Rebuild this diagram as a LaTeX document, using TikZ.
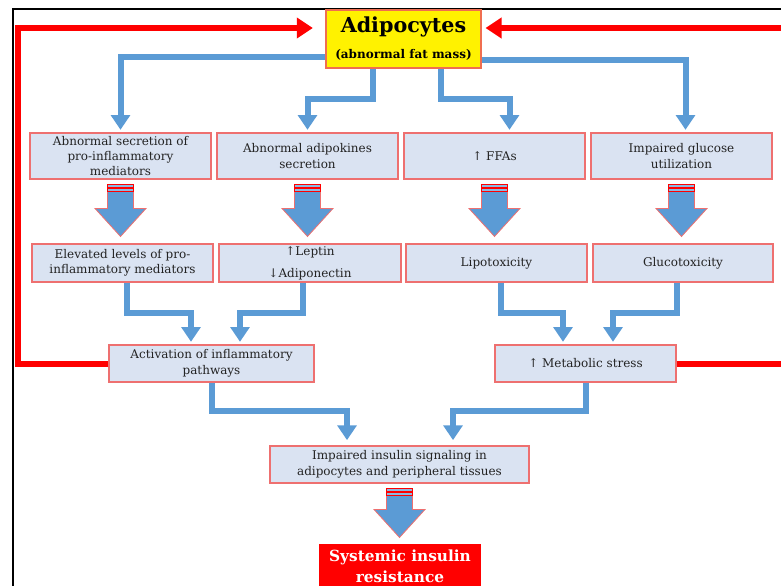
\documentclass[tikz,border=0pt]{standalone}
\usepackage{fontspec}
\setmainfont{DejaVu Serif}
\usetikzlibrary{arrows.meta,calc}

\definecolor{boxfill}{RGB}{218,227,242}
\definecolor{boxline}{RGB}{238,112,112}
\definecolor{arrblue}{RGB}{91,155,213}
\definecolor{txtgray}{RGB}{35,35,35}

\newcommand{\fatarrow}[2]{%
  \coordinate (ft) at ($(#1.south)+(0,5)$);
  \coordinate (fh) at (ft |- #2.north);
  \filldraw[fill=arrblue,draw=boxline,line width=0.6pt] ($(ft)+(-13,7)$) -- ($(fh)+(-13,-35)$) -- ($(fh)+(-25.5,-35)$)
    -- ($(fh)+(0,-7)$) -- ($(fh)+(25.5,-35)$) -- ($(fh)+(13,-35)$) -- ($(ft)+(13,7)$) -- cycle;
  \filldraw[fill=arrblue!70,draw=red,line width=0.6pt] ($(ft)+(-13,0)$) rectangle ($(ft)+(13,2.5)$);
  \filldraw[fill=arrblue!70,draw=red,line width=0.6pt] ($(ft)+(-13,4)$) rectangle ($(ft)+(13,6.5)$);
}

\begin{document}
\begin{tikzpicture}[x=0.75pt,y=-0.75pt,
    box/.style 2 args={draw=boxline,line width=0.8pt,fill=boxfill,inner sep=0pt,align=center,
      text=txtgray,font=\fontsize{9}{11.6}\selectfont,minimum width=#1*0.75pt,minimum height=#2*0.75pt},
    blu/.style={draw=arrblue,line width=4.5pt,-{Triangle[width=14pt,length=11pt]},shorten >=2pt},
    redline/.style={draw=red,line width=4.5pt,-{Triangle[width=15pt,length=12pt]}}]
  \useasboundingbox (0,0) rectangle (781,585);
  \draw[line width=1pt] (13,600) -- (13,9) -- (800,9);

  \node[box={155}{58},fill=yellow,draw={rgb,255:red,240;green,110;blue,80},text=black] (adipo) at (403.5,39)
    {{\fontsize{15.5}{17}\selectfont\bfseries Adipocytes}\\[8pt]{\fontsize{9}{10}\selectfont\bfseries (abnormal fat mass)}};

  \node[box={181}{46}] (A1) at (120.5,156) {Abnormal secretion of\\pro-inflammatory\\mediators};
  \node[box={181}{46}] (A2) at (307.5,156) {Abnormal adipokines\\secretion};
  \node[box={181}{46}] (A3) at (494.5,156) {↑ FFAs};
  \node[box={181}{46}] (A4) at (681.5,156) {Impaired glucose\\utilization};

  \node[box={181}{38}] (B1) at (122.5,263) {Elevated levels of pro-\\inflammatory mediators};
  \node[box={182}{38}] (B2) at (310,263) {↑Leptin\\[5pt]↓Adiponectin};
  \node[box={181}{38}] (B3) at (496.5,263) {Lipotoxicity};
  \node[box={180}{38}] (B4) at (683,263) {Glucotoxicity};

  \node[box={205}{37}] (C1) at (211.5,363.5) {Activation of inflammatory\\pathways};
  \node[box={181}{37}] (C2) at (585.5,363.5) {↑ Metabolic stress};

  \node[box={259}{37}] (D) at (399.5,464.5) {Impaired insulin signaling in\\adipocytes and peripheral tissues};
  \node[box={160}{42},fill=red,draw=red,text=white,font=\fontsize{11.5}{15.5}\selectfont\bfseries] (E) at (400,566)
    {Systemic insulin\\resistance};

  \draw[blu] ($(adipo.west)+(0,18)$) -| (A1.north);
  \draw[blu] ($(adipo.south)+(-30.5,0)$) -- ($(adipo.south)+(-30.5,30)$) -| (A2.north);
  \draw[blu] ($(adipo.south)+(37.5,0)$) -- ($(adipo.south)+(37.5,30)$) -| ($(A3.north)+(15,0)$);
  \draw[blu] ($(adipo.east)+(0,21)$) -| ($(A4.north)+(4,0)$);

  \fatarrow{A1}{B1}
  \fatarrow{A2}{B2}
  \fatarrow{A3}{B3}
  \fatarrow{A4}{B4}

  \draw[blu] ($(B1.south)+(4,0)$) -- ($(B1.south)+(4,30)$) -| ($(C1.north)+(-20.5,0)$);
  \draw[blu] ($(B2.south)+(-7,0)$) -- ($(B2.south)+(-7,30)$) -| ($(C1.north)+(28.5,0)$);
  \draw[blu] ($(B3.south)+(4.5,0)$) -- ($(B3.south)+(4.5,30)$) -| ($(C2.north)+(-22.5,0)$);
  \draw[blu] ($(B4.south)+(-6,0)$) -- ($(B4.south)+(-6,30)$) -| ($(C2.north)+(27.5,0)$);

  \draw[blu,shorten >=4pt] (C1.south) -- ($(C1.south)+(0,28)$) -| ($(D.north)+(-52.5,0)$);
  \draw[blu,shorten >=4pt] (C2.south) -- ($(C2.south)+(0,28)$) -| ($(D.north)+(53.5,0)$);

  \fatarrow{D}{E}

  \coordinate (lc) at (18,28);
  \coordinate (rc) at (800,28);
  \draw[redline,shorten >=9.5pt] (C1.west) -| (lc) -- (adipo.west |- lc);
  \draw[redline,shorten >=3pt] (C2.east) -| (rc) -- (adipo.east |- lc);
\end{tikzpicture}
\end{document}
